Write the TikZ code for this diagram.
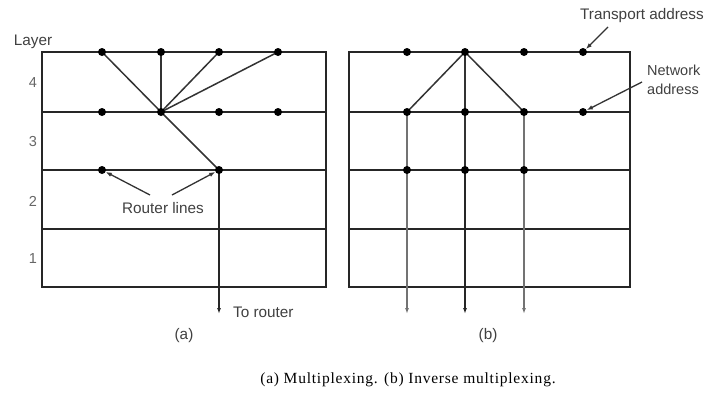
\documentclass[tikz,border=0pt]{standalone}
\usepackage{fontspec}
\setmainfont{Liberation Serif}
\setsansfont{Liberation Sans}
\usetikzlibrary{arrows.meta,backgrounds}
\begin{document}
\begin{tikzpicture}[x=1pt,y=-1pt,
  grid/.style={line width=1.7pt, black!85},
  link/.style={line width=1.5pt, black!80},
  lightlink/.style={line width=1.5pt, black!55},
  dot/.style={circle, fill=black, inner sep=0pt, minimum size=8pt},
  lbl/.style={font=\sffamily\fontsize{15.3}{19}\selectfont, text=black!75, inner sep=0pt},
  num/.style={font=\sffamily\fontsize{14.5}{17}\selectfont, text=black!60, inner sep=0pt},
  ptr/.style={line width=1.3pt, black!80, -{Latex[length=6pt,width=4.5pt]}},
  downarr/.style={line width=1.5pt, black!85, -{Latex[length=6pt,width=4pt]}},
  lightdown/.style={line width=1.5pt, black!55, -{Latex[length=6pt,width=4pt]}}]
\useasboundingbox (0,0) rectangle (704,392);

% ---------- dots (a)
\node[dot] (a41) at (102,52) {};
\node[dot] (a42) at (161,52) {};
\node[dot] (a43) at (219,52) {};
\node[dot] (a44) at (278,52) {};
\node[dot] (a31) at (102,112) {};
\node[dot] (a32) at (161,112) {};
\node[dot] (a33) at (219,112) {};
\node[dot] (a34) at (278,112) {};
\node[dot] (a21) at (102,170) {};
\node[dot] (a22) at (219,170) {};
\coordinate (aend) at (219,314);

% ---------- dots (b)
\node[dot] (b41) at (407,52) {};
\node[dot] (b42) at (465,52) {};
\node[dot] (b43) at (524,52) {};
\node[dot] (b44) at (583,52) {};
\node[dot] (b31) at (407,112) {};
\node[dot] (b32) at (465,112) {};
\node[dot] (b33) at (524,112) {};
\node[dot] (b34) at (583,112) {};
\node[dot] (b21) at (407,170) {};
\node[dot] (b22) at (465,170) {};
\node[dot] (b23) at (524,170) {};
\coordinate (bend1) at (407,314);
\coordinate (bend2) at (465,314);
\coordinate (bend3) at (524,314);

\begin{pgfonlayer}{background}
% ---------- box (a)
\draw[grid] (42,52) rectangle (326,287);
\foreach \y in {112,170,229} \draw[grid] (42,\y) -- (326,\y);
% ---------- box (b)
\draw[grid] (349,52) rectangle (630,287);
\foreach \y in {112,170,229} \draw[grid] (349,\y) -- (630,\y);

% ---------- connectors (a)
\draw[link] (a32.center) -- (a41.center);
\draw[link] (a32.center) -- (a42.center);
\draw[link] (a32.center) -- (a43.center);
\draw[link] (a32.center) -- (a44.center);
\draw[link] (a32.center) -- (a22.center);
\draw[downarr] (a22.center) -- (aend);

% ---------- connectors (b)
\draw[link] (b42.center) -- (b31.center);
\draw[link] (b42.center) -- (b33.center);
\draw[link] (b42.center) -- (b32.center);
\draw[lightlink] (b31.center) -- (b21.center);
\draw[link] (b32.center) -- (b22.center);
\draw[lightlink] (b33.center) -- (b23.center);
\draw[lightdown] (b21.center) -- (bend1);
\draw[downarr] (b22.center) -- (bend2);
\draw[lightdown] (b23.center) -- (bend3);
\end{pgfonlayer}

% ---------- layer labels
\node[lbl] (layer) at (33,42) {Layer};
\node[num] (l4) at (33,83) {4};
\node[num] (l3) at (33,142) {3};
\node[num] (l2) at (33,201) {2};
\node[num] (l1) at (33,259) {1};

% ---------- annotations (a)
\node[lbl] (router) at (163,208) {Router lines};
\coordinate (rl1) at (150,195);
\coordinate (rl2) at (172,195);
\draw[ptr] (rl1) -- (a21);
\draw[ptr] (rl2) -- (a22);
\node[lbl, anchor=west] (torouter) at (233,312) {To router};
\node[lbl] (capa) at (184,336) {(a)};
\node[lbl] (capb) at (488,336) {(b)};

% ---------- annotations (b)
\node[lbl, anchor=west] (transport) at (580,16) {Transport address};
\coordinate (ta) at (608,27);
\draw[ptr] (ta) -- (b44);
\node[lbl, anchor=west, align=left, font=\sffamily\fontsize{14.5}{19}\selectfont] (network) at (647,80) {Network\\address};
\coordinate (na) at (642,82);
\draw[ptr] (na) -- (b34);

% ---------- caption
\node[font=\fontsize{15.5}{18}\selectfont\addfontfeature{LetterSpace=5}, text=black, inner sep=0pt] (caption) at (408,380) {(a) Multiplexing. (b) Inverse multiplexing.};
\end{tikzpicture}
\end{document}
